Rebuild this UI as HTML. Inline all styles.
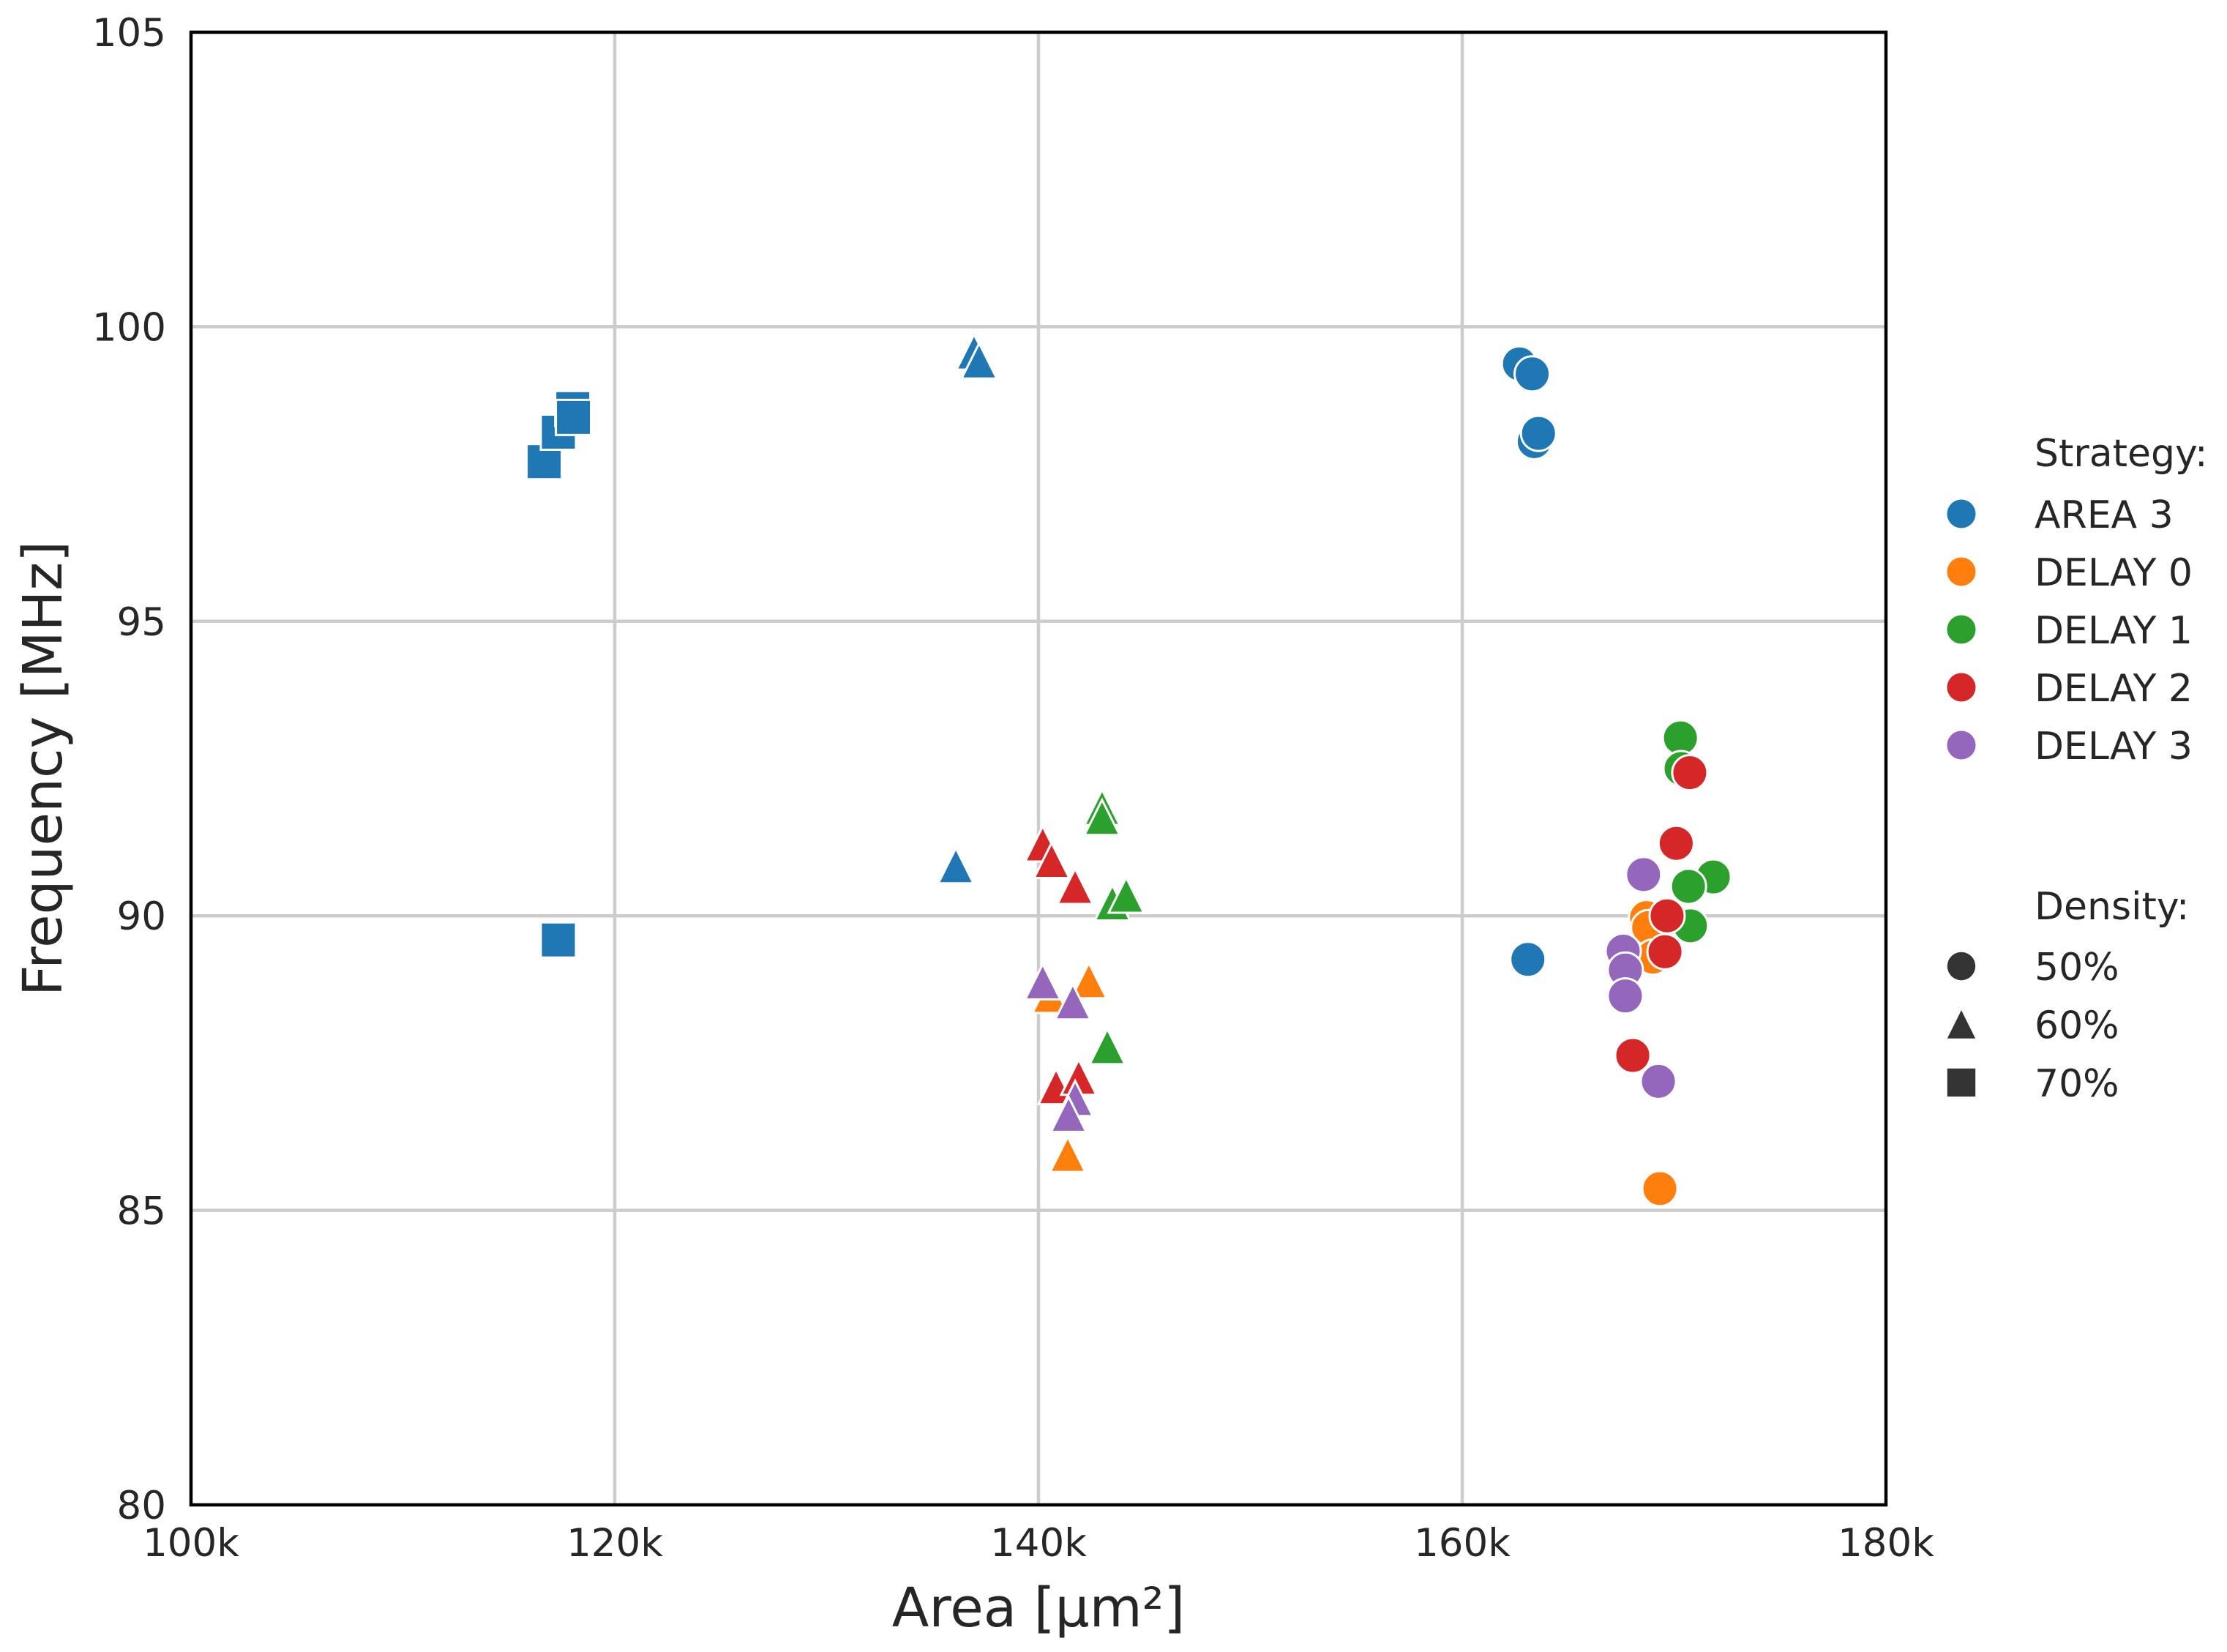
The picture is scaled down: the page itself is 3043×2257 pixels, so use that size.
<!DOCTYPE html>
<html><head><meta charset="utf-8"><style>
html,body{margin:0;padding:0;background:#fff;}
svg{display:block;font-family:"DejaVu Sans","Liberation Sans",sans-serif;}
</style></head><body>
<svg id="chart" width="3043" height="2257" viewBox="0 0 3043 2257" xmlns="http://www.w3.org/2000/svg">
<rect width="3043" height="2257" fill="#fff"/>
<g id="grid"></g>
<g id="marks"></g>
<rect x="261" y="44" width="2316" height="2012" fill="none" stroke="#000" stroke-width="4.5"/>
<g id="ticks" fill="#262626" font-size="53"></g>
<text x="1419" y="2222" text-anchor="middle" font-size="74" fill="#262626">Area [µm²]</text>
<text transform="translate(84,1050) rotate(-90)" text-anchor="middle" font-size="74" fill="#262626">Frequency [MHz]</text>
<g id="legend" font-size="52" fill="#262626"></g>
</svg>
<script>
const xTicks = [100, 120, 140, 160, 180];
const xTickLabels = ["100k", "120k", "140k", "160k", "180k"];
const yTicks = [80, 85, 90, 95, 100, 105];
const yTickLabels = ["80", "85", "90", "95", "100", "105"];
const strategies = ["AREA 3", "DELAY 0", "DELAY 1", "DELAY 2", "DELAY 3"];
const colors = ["#1f77b4", "#ff7f0e", "#2ca02c", "#d62728", "#9467bd"];
const densities = ["50%", "60%", "70%"];
// each point: [strategy index, density index]
const ptStrategy = [0,0,0,0,0, 0,0,0, 0,0,0,0,0,
  1,1,1, 1,1,1, 1,
  2,2, 2,2, 2, 2,2,2,2,2,
  3,3,3,3,3, 3,3,3,3,3,
  4,4,4,4, 4,4,4,4,4];
const ptDensity = [2,2,2,2,2, 1,1,1, 0,0,0,0,0,
  1,1,1, 0,0,0, 0,
  1,1, 1,1, 1, 0,0,0,0,0,
  1,1,1,1,1, 0,0,0,0,0,
  1,1,1,1, 0,0,0,0,0];
const areaK = [116.67,117.34,118.02,118.05,117.34, 136.96,137.2,136.1, 162.7,163.3,163.4,163.6,163.1,
  140.55,142.38,141.38, 168.7,168.8,169.0, 169.33,
  143.0,143.0, 143.49,144.14, 143.25, 170.3,170.33,171.85,170.68,170.77,
  140.2,140.62,141.73,140.83,141.9, 170.74,170.1,169.67,169.57,168.05,
  140.2,141.62,141.73,141.42, 168.56,167.6,167.7,167.7,169.26];
const freqMHz = [97.71,98.21,98.61,98.46,89.59, 99.57,99.42,90.85, 99.37,99.2,98.05,98.19,89.26,
  88.65,88.9,85.95, 89.97,89.8,89.3, 85.37,
  91.84,91.67, 90.22,90.35, 87.78, 93.02,92.5,90.66,90.5,89.83,
  91.22,90.94,90.5,87.1,87.26, 92.43,91.23,90.0,89.39,87.63,
  88.88,88.54,86.9,86.63, 90.7,89.4,89.08,88.64,87.19];

const NS = "http://www.w3.org/2000/svg";
const X0 = 261, X1 = 2577, Y0 = 2056, Y1 = 44;
function xs(v){ return X0 + (v - 100) / 80 * (X1 - X0); }
function ys(v){ return Y0 - (v - 80) / 25 * (Y0 - Y1); }
function mk(tag, attrs, parent){ const e = document.createElementNS(NS, tag); for (const k in attrs) e.setAttribute(k, attrs[k]); parent.appendChild(e); return e; }

const grid = document.getElementById('grid');
xTicks.forEach((t, i) => {
  if (t > 100 && t < 180) {
    const l = mk('line', {x1: xs(t), x2: xs(t), y1: Y1, y2: Y0, stroke: '#cccccc', 'stroke-width': 4.5}, grid);
    
    
  }
});
yTicks.forEach((t, i) => {
  if (t > 80 && t < 105) {
    const l = mk('line', {x1: X0, x2: X1, y1: ys(t), y2: ys(t), stroke: '#cccccc', 'stroke-width': 4.5}, grid);
    
    
  }
});
const ticks = document.getElementById('ticks');
xTicks.forEach((t, i) => {
  const e = mk('text', {x: xs(t), y: 2126, 'text-anchor': 'middle'}, ticks);
  e.textContent = xTickLabels[i];
  
  
});
yTicks.forEach((t, i) => {
  const e = mk('text', {x: 227, y: ys(t) + 19, 'text-anchor': 'end'}, ticks);
  e.textContent = yTickLabels[i];
  
  
});

function marker(parent, d, cx, cy, fill, stroke, sw, sc){
  let e;
  if (d === 0) e = mk('circle', {cx: cx, cy: cy, r: 24 * sc}, parent);
  else if (d === 1) { const h = 24 * sc; e = mk('polygon', {points: `${cx},${cy - h} ${cx - h},${cy + h} ${cx + h},${cy + h}`}, parent); }
  else { const h = 24 * sc; e = mk('rect', {x: cx - h, y: cy - h, width: 2 * h, height: 2 * h}, parent); }
  e.setAttribute('fill', fill);
  if (stroke) { e.setAttribute('stroke', stroke); e.setAttribute('stroke-width', sw); }
  return e;
}
const marks = document.getElementById('marks');
for (let i = 0; i < areaK.length; i++) {
  const e = marker(marks, ptDensity[i], xs(areaK[i]), ys(freqMHz[i]), colors[ptStrategy[i]], '#ffffff', 3, 1);
  
  
}

const lg = document.getElementById('legend');
const t1 = mk('text', {x: 2780, y: 637}, lg);
t1.textContent = 'Strategy:';


strategies.forEach((s, i) => {
  const cy = 702 + i * 79;
  const m = mk('circle', {cx: 2680, cy: cy, r: 19.5, fill: colors[i]}, lg);
  
  
  const t = mk('text', {x: 2780, y: cy + 19}, lg);
  t.textContent = s;
  
  
});
const t2 = mk('text', {x: 2780, y: 1256}, lg);
t2.textContent = 'Density:';


densities.forEach((s, i) => {
  const cy = 1320 + i * 79.5;
  const m = marker(lg, i, 2680, cy, '#333333', null, 0, 0.8);
  
  
  const t = mk('text', {x: 2780, y: cy + 19}, lg);
  t.textContent = s;
  
  
});
</script>
</body></html>
